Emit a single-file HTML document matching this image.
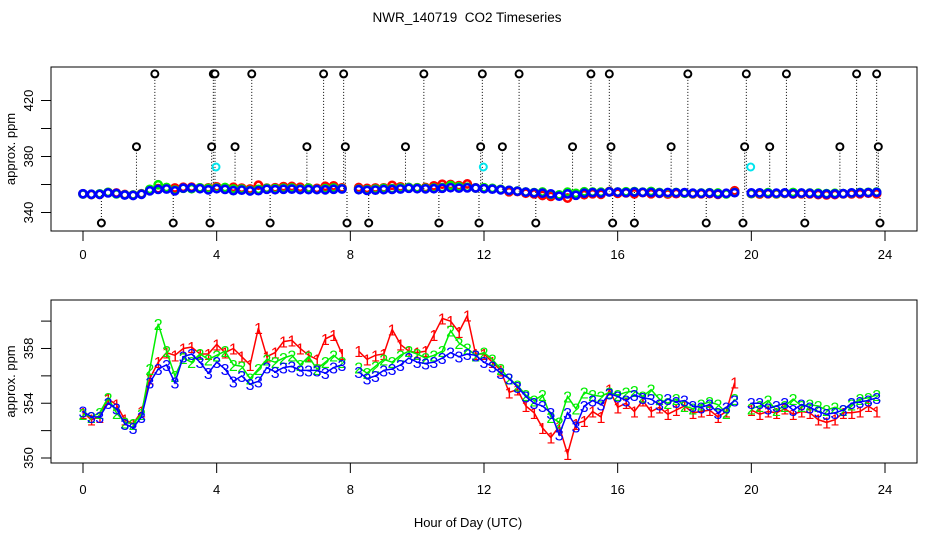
<!DOCTYPE html>
<html><head><meta charset="utf-8"><style>
html,body{margin:0;padding:0;background:#fff;}
svg{display:block;font-family:"Liberation Sans",sans-serif;}
</style></head><body>
<svg id="chart" width="936" height="540" viewBox="0 0 936 540">
<rect width="936" height="540" fill="#fff"/>
<text x="467" y="22" font-size="13.5" text-anchor="middle" xml:space="preserve" style="white-space:pre">NWR_140719  CO2 Timeseries</text>
<text x="468" y="527" font-size="13" text-anchor="middle">Hour of Day (UTC)</text>
<g id="top"></g>
<g id="bot"></g>
</svg>
<script>
const hours=[0,0.25,0.5,0.75,1,1.25,1.5,1.75,2,2.25,2.5,2.75,3,3.25,3.5,3.75,4,4.25,4.5,4.75,5,5.25,5.5,5.75,6,6.25,6.5,6.75,7,7.25,7.5,7.75,8,8.25,8.5,8.75,9,9.25,9.5,9.75,10,10.25,10.5,10.75,11,11.25,11.5,11.75,12,12.25,12.5,12.75,13,13.25,13.5,13.75,14,14.25,14.5,14.75,15,15.25,15.5,15.75,16,16.25,16.5,16.75,17,17.25,17.5,17.75,18,18.25,18.5,18.75,19,19.25,19.5,19.75,20,20.25,20.5,20.75,21,21.25,21.5,21.75,22,22.25,22.5,22.75,23,23.25,23.5,23.75];
const series1=[353.3,352.8,353.0,354.3,353.9,352.8,352.5,353.4,355.8,357.0,357.7,357.5,358.0,358.1,357.6,357.6,358.3,357.7,358.0,357.4,356.8,359.5,357.4,357.7,358.5,358.6,358.0,357.5,357.2,358.7,359.0,357.6,null,357.8,357.2,357.5,357.6,359.4,358.3,357.8,357.7,357.8,359.0,360.2,360.0,359.2,360.4,357.6,357.6,357.0,356.4,354.8,355.0,353.8,353.3,352.2,351.5,352.3,350.3,352.5,352.7,353.4,353.0,355.0,353.7,354.0,353.4,354.2,353.4,353.7,353.2,353.5,353.8,353.3,353.4,353.5,353.0,353.4,355.5,null,353.5,353.2,353.4,353.3,353.6,353.2,353.4,353.3,352.8,352.6,352.8,353.3,353.3,353.4,353.8,353.4];
const series2=[353.2,353.0,353.3,354.4,353.3,352.6,352.5,353.2,356.5,359.8,357.8,356.0,357.3,357.0,357.6,357.2,357.5,357.8,356.8,356.7,355.8,356.5,357.2,357.0,357.3,357.5,356.8,357.4,356.5,357.0,357.5,357.0,null,356.6,356.2,356.7,357.2,357.0,357.5,357.8,357.6,357.3,357.5,357.8,359.3,358.4,358.0,357.5,357.7,357.2,356.5,355.8,355.3,354.6,354.2,354.6,353.0,352.6,354.5,353.6,354.8,354.6,354.5,354.8,354.6,354.8,354.9,354.5,355.0,354.3,354.0,354.3,353.8,353.6,353.9,354.1,353.9,353.3,354.3,null,353.6,353.8,354.2,353.5,353.8,354.3,353.8,353.9,353.8,353.5,353.7,353.5,353.9,354.3,354.4,354.6];
const series3=[353.4,353.0,353.0,354.0,353.6,352.5,352.2,353.0,355.5,356.5,356.8,355.5,357.4,357.6,357.0,356.2,357.0,356.5,355.6,356.0,355.4,355.6,356.6,356.3,356.6,356.7,356.4,356.4,356.4,356.2,356.6,356.8,null,356.3,355.8,356.0,356.4,356.5,356.8,357.3,357.0,356.9,357.0,357.3,357.7,357.4,357.6,357.5,357.0,356.7,356.2,355.8,355.2,354.5,354.0,353.8,353.3,351.7,353.3,352.3,353.8,354.2,353.9,354.7,354.5,354.2,354.6,354.4,354.3,353.9,354.3,354.1,354.2,353.8,353.7,353.9,353.3,353.7,354.2,null,354.0,354.0,353.6,353.8,354.0,353.5,353.9,353.7,353.4,353.2,353.3,353.5,354.0,354.1,354.2,354.4];
const outlierHours=[2.15,3.9,3.95,5.05,7.2,7.8,10.2,11.95,13.05,15.2,15.75,18.1,19.85,21.05,23.15,23.75,1.6,3.85,4.55,6.7,7.85,9.65,11.9,12.55,14.65,15.8,17.6,19.8,20.55,22.65,23.8,0.55,2.7,3.8,5.6,7.9,8.55,10.65,11.85,13.55,15.85,16.5,18.65,19.75,21.6,23.85];
const outlierValues=[439,439,439,439,439,439,439,439,439,439,439,439,439,439,439,439,387,387,387,387,387,387,387,387,387,387,387,387,387,387,387,332.5,332.5,332.5,332.5,332.5,332.5,332.5,332.5,332.5,332.5,332.5,332.5,332.5,332.5,332.5];
const cyanHours=[3.98,11.98,19.98];
const cyanValues=[372.5,372.5,372.5];
const xTicks=[0,4,8,12,16,20,24];
const topYTicks=[340,360,380,400,420];
const topYLabels=[340,380,420];
const botYTicks=[350,352,354,356,358,360];
const botYLabels=[350,354,358];

const NS="http://www.w3.org/2000/svg";
function mk(tag,attrs,parent,txt){const e=document.createElementNS(NS,tag);for(const k in attrs)e.setAttribute(k,attrs[k]);if(txt!==undefined)e.textContent=txt;parent.appendChild(e);return e;}
const X=h=>83+h*(885-83)/24;
const yT=v=>212.5-(v-340)*1.4;
const yB=v=>458-(v-350)*13.69;
const colors=["#ff0000","#00ee00","#0000ff"];
const allSeries=[series1,series2,series3];

function axes(g,top,bottom,yf,yt,yl,lblY){
  const box=mk('rect',{x:51,y:top,width:866,height:bottom-top,fill:'none',stroke:'#000','stroke-width':1},g);
  
  
  for(const t of xTicks){
    const l=mk('line',{x1:X(t),x2:X(t),y1:bottom,y2:bottom+10,stroke:'#000'},g);
    
    
    const tx=mk('text',{x:X(t),y:lblY,'font-size':13,'text-anchor':'middle'},g,String(t));
    
    
  }
  for(const t of yt){
    const l=mk('line',{x1:41,x2:51,y1:yf(t),y2:yf(t),stroke:'#000'},g);
    
    
  }
  for(const t of yl){
    const tx=mk('text',{x:0,y:0,'font-size':13,'text-anchor':'middle',transform:`translate(33,${yf(t)}) rotate(-90)`},g,String(t));
    
    
  }
  const yt2=mk('text',{x:0,y:0,'font-size':13,'text-anchor':'middle',transform:`translate(15,${(top+bottom)/2}) rotate(-90)`},g,'approx. ppm');
  
  
}

// top panel
const gt=document.getElementById('top');
axes(gt,67,231,yT,topYTicks,topYLabels,259);
outlierHours.forEach((h,i)=>{
  const l=mk('line',{x1:X(h),x2:X(h),y1:yT(outlierValues[i]),y2:yT(355),stroke:'#000','stroke-width':1,'stroke-dasharray':'1,2'},gt);
  
  
});
allSeries.forEach((s,si)=>{
  s.forEach((v,i)=>{
    if(v===null)return;
    const c=mk('circle',{cx:X(hours[i]),cy:yT(v),r:3.6,fill:'none',stroke:colors[si],'stroke-width':2.6},gt);
    
    
  });
});
outlierHours.forEach((h,i)=>{
  const c=mk('circle',{cx:X(h),cy:yT(outlierValues[i]),r:3.5,fill:'#fff',stroke:'#000','stroke-width':2},gt);
  
  
});
cyanHours.forEach((h,i)=>{
  const c=mk('circle',{cx:X(h),cy:yT(cyanValues[i]),r:3.5,fill:'none',stroke:'#00e5ee','stroke-width':2},gt);
  
  
});

// bottom panel
const gb=document.getElementById('bot');
axes(gb,300,463,yB,botYTicks,botYLabels,494);
allSeries.forEach((s,si)=>{
  let d='',pen=false;
  s.forEach((v,i)=>{
    if(v===null){pen=false;return;}
    d+=(pen?'L':'M')+X(hours[i]).toFixed(1)+','+yB(v).toFixed(1);pen=true;
  });
  const p=mk('path',{d:d,fill:'none',stroke:colors[si],'stroke-width':1.5},gb);
  
  
  s.forEach((v,i)=>{
    if(v===null)return;
    const t=mk('text',{x:X(hours[i]),y:yB(v)+6,'font-size':16,'text-anchor':'middle',fill:colors[si]},gb,String(si+1));
    
    
  });
});
</script>
</body></html>
